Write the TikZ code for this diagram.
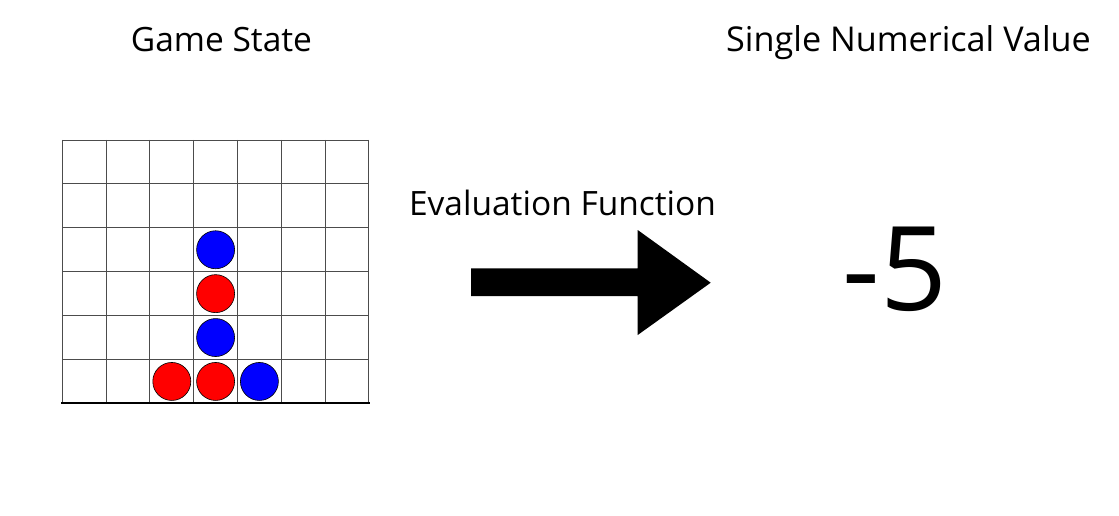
\documentclass[tikz,border=0pt]{standalone}
\usepackage{fontspec}
\setmainfont{Open Sans}
\begin{document}
\begin{tikzpicture}[x=1pt,y=-1pt,
  gridline/.style={draw=black!70,line width=0.9pt},
  disc/.style={circle,draw=black,line width=0.6pt,minimum size=38pt,inner sep=0pt},
  redd/.style={disc,fill=red},
  blued/.style={disc,fill=blue},
  title/.style={anchor=base,inner sep=0pt,font=\fontsize{33.5}{38}\selectfont},
]
\useasboundingbox (0,0) rectangle (1119,516);
% grid
\def\gx{62.3}\def\gy{140}\def\cw{43.8}\def\rh{43.9}
\foreach \i in {0,...,7}{
  \draw[gridline] (\gx+\i*\cw,\gy) -- (\gx+\i*\cw,\gy+6*\rh);
}
\foreach \j in {0,...,5}{
  \draw[gridline] (\gx,\gy+\j*\rh) -- (\gx+7*\cw,\gy+\j*\rh);
}
\draw[line width=2pt,black] (\gx-1,\gy+6*\rh) -- (\gx+7*\cw+1,\gy+6*\rh);
% discs
\node[blued] (b1) at (\gx+3.5*\cw,\gy+2.5*\rh) {};
\node[redd]  (r1) at (\gx+3.5*\cw,\gy+3.5*\rh) {};
\node[blued] (b2) at (\gx+3.5*\cw,\gy+4.5*\rh) {};
\node[redd]  (r2) at (\gx+2.5*\cw,\gy+5.5*\rh) {};
\node[redd]  (r3) at (\gx+3.5*\cw,\gy+5.5*\rh) {};
\node[blued] (b3) at (\gx+4.5*\cw,\gy+5.5*\rh) {};
% titles
\node[title] (gs) at (221.5,51.7) {Game State};
\node[title,font=\fontsize{34.2}{39}\selectfont] (snv) at (908.5,51.7) {Single Numerical Value};
\node[title] (ef) at (562.5,215) {Evaluation Function};
\node[anchor=base,inner sep=0pt,font=\fontsize{117}{124}\selectfont] (val) at (895,310) {-5};
% arrow
\fill[black] (471,268.3) -- (637.7,268.3) -- (637.7,230) -- (710.7,282.7)
  -- (637.7,335) -- (637.7,296) -- (471,296) -- cycle;
\end{tikzpicture}
\end{document}
